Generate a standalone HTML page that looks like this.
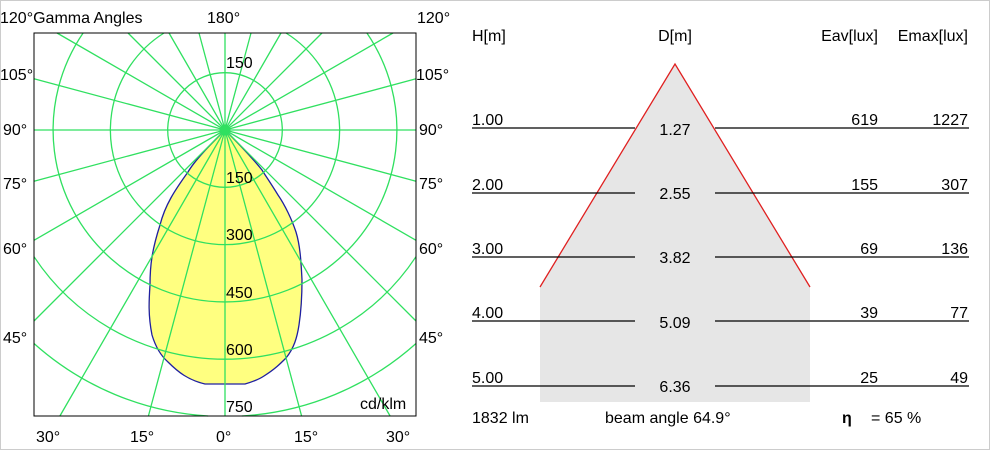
<!DOCTYPE html>
<html><head><style>
html,body{margin:0;padding:0;background:#fff;width:990px;height:450px;overflow:hidden;position:relative}
svg{display:block;position:absolute;left:0;top:0;font-family:"Liberation Sans",Arial,sans-serif}
</style></head><body>
<svg width="990" height="450" viewBox="0 0 990 450" overflow="hidden">
<rect x="0.5" y="0.5" width="989" height="449" fill="#fff" stroke="#ccc"/>
<path d="M225,130 C210,145 195,160 188,172 C175,190 165,205 160,225 C152,250 150,265 150,285 C149,300 148,315 152,335 C155,345 160,355 168,362 C178,372 188,380 205,384 L245,384 C252,382 258,380 264,376 C275,369 280,364 286,358 C294,348 297,338 299,325 C302,305 302,290 302,280 C301,260 300,245 296,232 C292,220 285,205 278,195 C270,182 265,175 262,170 C250,155 235,140 225,130Z" fill="#ffff80" stroke="#2020a0" stroke-width="1.3"/>
<g stroke="#30e060" stroke-width="1.3" fill="none">
<circle cx="225" cy="130" r="57.3"/>
<path d="M164,33 A114.6,114.6 0 1 0 286,33"/>
<path d="M83.1,33 A171.9,171.9 0 1 0 366.9,33"/>
<path d="M34,256.7 A229.2,229.2 0 0 0 416,256.7"/>
<path d="M34,343.5 A286.5,286.5 0 0 0 208.1,416"/>
<path d="M241.9,416 A286.5,286.5 0 0 0 416,343.5"/>
<path d="M225,130L225,416 M225,130L301.6,416 M225,130L390.1,416 M225,130L416,321 M225,130L416,240.3 M225,130L416,181.2 M225,130L416,130 M225,130L416,78.8 M225,130L393,33 M225,130L322,33 M225,130L281,33 M225,130L251,33 M225,130L225,33 M225,130L148.4,416 M225,130L59.9,416 M225,130L34,321 M225,130L34,240.3 M225,130L34,181.2 M225,130L34,130 M225,130L34,78.8 M225,130L57,33 M225,130L128,33 M225,130L169,33 M225,130L199,33"/>
</g>
<rect x="34" y="33" width="382" height="383" fill="none" stroke="#000" stroke-width="1"/>
<g font-size="16" fill="#000">
<text x="0" y="23">120°Gamma Angles</text>
<text x="207" y="23">180°</text>
<text x="417" y="23">120°</text>
<text x="0" y="80">105°</text><text x="416" y="80">105°</text>
<text x="3" y="135">90°</text><text x="419" y="135">90°</text>
<text x="3" y="189">75°</text><text x="419" y="189">75°</text>
<text x="3" y="254">60°</text><text x="419" y="254">60°</text>
<text x="3" y="343">45°</text><text x="419" y="343">45°</text>
<text x="226" y="68">150</text>
<text x="226" y="183">150</text>
<text x="226" y="240">300</text>
<text x="226" y="298">450</text>
<text x="226" y="355">600</text>
<text x="226" y="412">750</text>
<text x="360" y="409">cd/klm</text>
<text x="36" y="442">30°</text><text x="130" y="442">15°</text><text x="216" y="442">0°</text><text x="294" y="442">15°</text><text x="386" y="442">30°</text>
</g>
<path d="M675,64 L810,287 L810,402 L540,402 L540,287Z" fill="#e6e6e6"/>
<polyline points="540,287 675,64 810,287" fill="none" stroke="#e02020" stroke-width="1.3"/>
<g stroke="#000" stroke-width="1.2">
<line x1="472" y1="128" x2="635" y2="128"/><line x1="715" y1="128" x2="969" y2="128"/>
<line x1="472" y1="193" x2="635" y2="193"/><line x1="715" y1="193" x2="969" y2="193"/>
<line x1="472" y1="257" x2="635" y2="257"/><line x1="715" y1="257" x2="969" y2="257"/>
<line x1="472" y1="321" x2="635" y2="321"/><line x1="715" y1="321" x2="969" y2="321"/>
<line x1="472" y1="386" x2="635" y2="386"/><line x1="715" y1="386" x2="969" y2="386"/>
</g>
<g font-size="16" fill="#000">
<text x="472" y="41">H[m]</text><text x="675" y="41" text-anchor="middle">D[m]</text>
<text x="878" y="41" text-anchor="end">Eav[lux]</text><text x="968" y="41" text-anchor="end">Emax[lux]</text>
<text x="472" y="125">1.00</text><text x="472" y="190">2.00</text><text x="472" y="254">3.00</text><text x="472" y="318">4.00</text><text x="472" y="383">5.00</text>
<g text-anchor="middle"><text x="675" y="135">1.27</text><text x="675" y="199">2.55</text><text x="675" y="263">3.82</text><text x="675" y="328">5.09</text><text x="675" y="392">6.36</text></g>
<g text-anchor="end"><text x="878" y="125">619</text><text x="878" y="190">155</text><text x="878" y="254">69</text><text x="878" y="318">39</text><text x="878" y="383">25</text>
<text x="968" y="125">1227</text><text x="968" y="190">307</text><text x="968" y="254">136</text><text x="968" y="318">77</text><text x="968" y="383">49</text></g>
<text x="472" y="423">1832 lm</text>
<text x="605" y="423">beam angle 64.9°</text>
<text x="842" y="423" font-weight="bold">η</text><text x="871" y="423">= 65 %</text>
</g>
</svg>
</body></html>
